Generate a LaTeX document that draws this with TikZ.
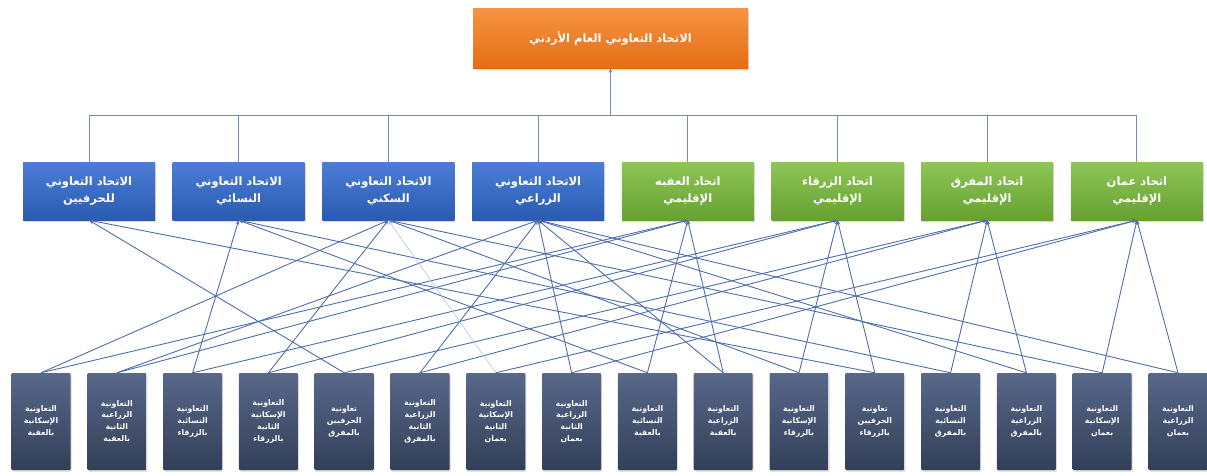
\documentclass[tikz,border=0pt]{standalone}
\usepackage{fontspec}
\setmainfont{DejaVu Sans}
\newfontfamily\arabicfont[Script=Arabic]{DejaVu Sans}
\TeXXeTstate=1
\usetikzlibrary{shadows,arrows.meta}
\definecolor{linkblue}{HTML}{4D6DAD}
\definecolor{linkpale}{HTML}{A9BCDD}
\definecolor{orangetop}{HTML}{F69443}
\definecolor{orangebot}{HTML}{E66D14}
\definecolor{bluetop}{HTML}{4C7ED8}
\definecolor{bluebot}{HTML}{2A5BB0}
\definecolor{greentop}{HTML}{8EC656}
\definecolor{greenbot}{HTML}{66A132}
\definecolor{slatetop}{HTML}{58688A}
\definecolor{slatebot}{HTML}{323F58}
\newcommand{\artxt}[1]{{\arabicfont\bfseries\beginR #1\endR}}
\tikzset{>={Stealth[length=4.5pt,width=3.5pt]},
  basebox/.style={text=white, align=center, inner sep=2pt,
    drop shadow={opacity=.3, shadow xshift=1pt, shadow yshift=-1.5pt}},
  headbox/.style={basebox, minimum width=275pt, minimum height=60pt,
    top color=orangetop, bottom color=orangebot,
    font=\fontsize{11.5}{14}\selectfont},
  typebox/.style={basebox, minimum width=132pt, minimum height=58pt,
    top color=bluetop, bottom color=bluebot,
    font=\fontsize{11.5}{17}\selectfont},
  regionbox/.style={typebox, top color=greentop, bottom color=greenbot},
  coopbox/.style={basebox, minimum width=59pt, minimum height=97pt,
    rounded corners=1pt, top color=slatetop, bottom color=slatebot,
    font=\fontsize{7.8}{11.8}\selectfont},
  link/.style={->, draw=linkblue, line width=.9pt},
  buslink/.style={draw=linkblue!80, line width=.9pt}
}
\begin{document}
\begin{tikzpicture}[x=1pt,y=-1pt]
  \useasboundingbox (0,0) rectangle (1207,475);

  \node [headbox] (head) at (610.5,38)
    {\artxt{الاتحاد التعاوني العام الأردني}};

  \foreach \i/\style/\one/\two in {
      1/typebox/الاتحاد التعاوني/للحرفيين,
      2/typebox/الاتحاد التعاوني/النسائي,
      3/typebox/الاتحاد التعاوني/السكني,
      4/typebox/الاتحاد التعاوني/الزراعي,
      5/regionbox/اتحاد العقبه/الإقليمي,
      6/regionbox/اتحاد الزرقاء/الإقليمي,
      7/regionbox/اتحاد المفرق/الإقليمي,
      8/regionbox/اتحاد عمان/الإقليمي}
    \node [\style] (fed\i) at ({89+149.7*(\i-1)},191)
      {\artxt{\one}\\\artxt{\two}};

  \foreach \j/\txt in {
      1/{\artxt{التعاونية}\\\artxt{الإسكانية}\\\artxt{بالعقبة}},
      2/{\artxt{التعاونية}\\\artxt{الزراعية}\\\artxt{الثانية}\\\artxt{بالعقبة}},
      3/{\artxt{التعاونية}\\\artxt{النسائية}\\\artxt{بالزرقاء}},
      4/{\artxt{التعاونية}\\\artxt{الإسكانية}\\\artxt{الثانية}\\\artxt{بالزرقاء}},
      5/{\artxt{تعاونية}\\\artxt{الحرفيين}\\\artxt{بالمفرق}},
      6/{\artxt{التعاونية}\\\artxt{الزراعية}\\\artxt{الثانية}\\\artxt{بالمفرق}},
      7/{\artxt{التعاونية}\\\artxt{الإسكانية}\\\artxt{الثانية}\\\artxt{بعمان}},
      8/{\artxt{التعاونية}\\\artxt{الزراعية}\\\artxt{الثانية}\\\artxt{بعمان}},
      9/{\artxt{التعاونية}\\\artxt{النسائية}\\\artxt{بالعقبة}},
      10/{\artxt{التعاونية}\\\artxt{الزراعية}\\\artxt{بالعقبة}},
      11/{\artxt{التعاونية}\\\artxt{الإسكانية}\\\artxt{بالزرقاء}},
      12/{\artxt{تعاونية}\\\artxt{الحرفيين}\\\artxt{بالزرقاء}},
      13/{\artxt{التعاونية}\\\artxt{النسائية}\\\artxt{بالمفرق}},
      14/{\artxt{التعاونية}\\\artxt{الزراعية}\\\artxt{بالمفرق}},
      15/{\artxt{التعاونية}\\\artxt{الإسكانية}\\\artxt{بعمان}},
      16/{\artxt{التعاونية}\\\artxt{الزراعية}\\\artxt{بعمان}}}
    \node [coopbox] (coop\j) at ({41+75.8*(\j-1)},421.5) {\txt};

  \coordinate (bus) at (610.5,115);
  \foreach \i in {1,...,8}
    \draw [buslink] (fed\i.north) |- (bus);
  \draw [buslink,->] (bus) -- (head.south);

  \foreach \f/\c in {1/5,1/12,2/3,2/9,2/13,3/1,3/4,3/11,3/15,
      4/2,4/6,4/8,4/10,4/14,4/16,5/1,5/2,5/9,5/10,6/3,6/4,6/11,6/12,
      7/5,7/6,7/13,7/14,8/7,8/8,8/15,8/16}
    \draw [link] (coop\c.north) -- (fed\f.south);
  \draw [link, draw=linkpale, line width=.5pt] (coop7.north) -- (fed3.south);
\end{tikzpicture}
\end{document}
